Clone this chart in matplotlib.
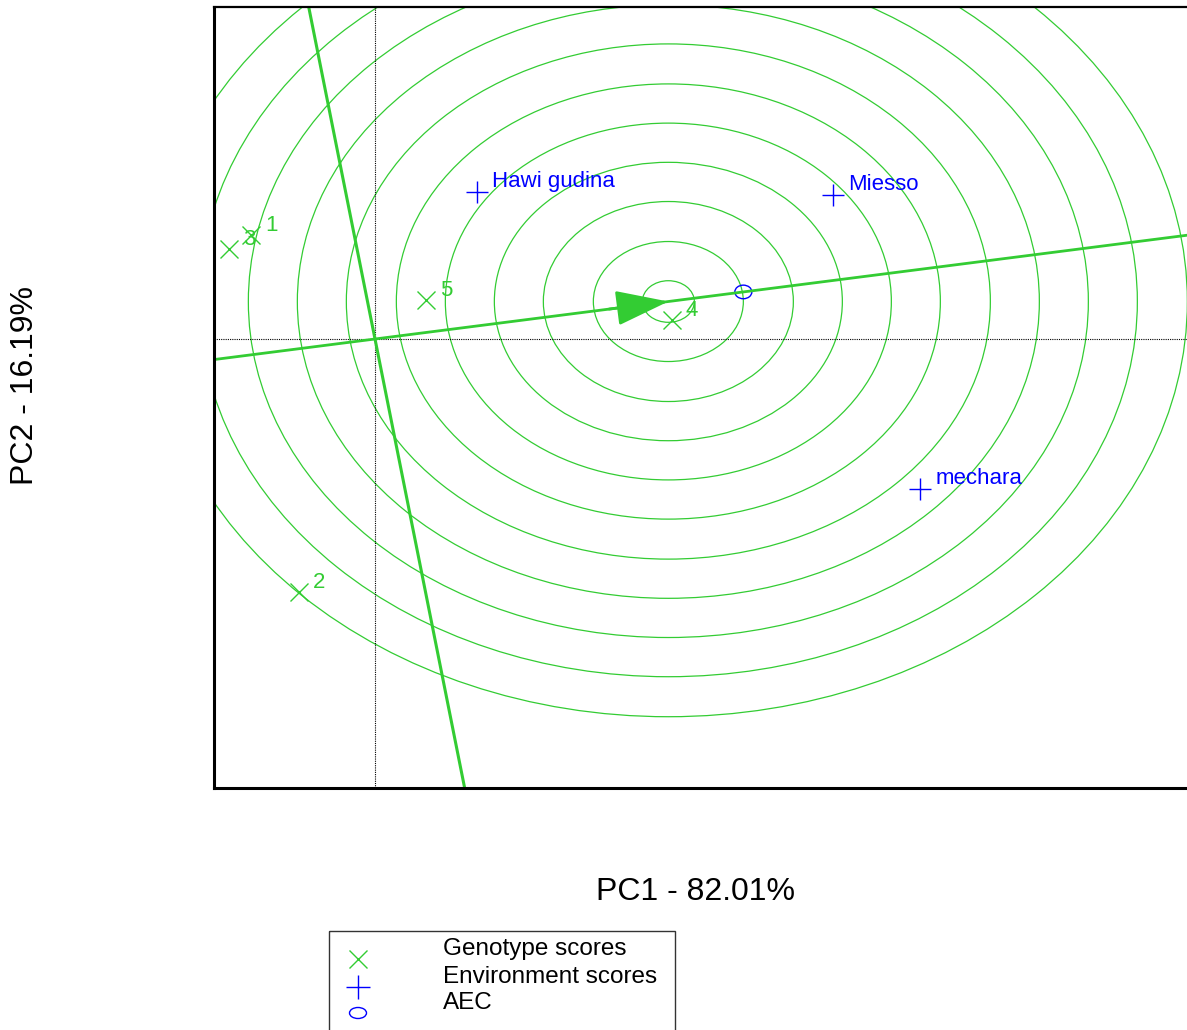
import numpy as np
import matplotlib
matplotlib.use("Agg")
from matplotlib import pyplot as plt
from matplotlib.patches import Circle, Ellipse, FancyArrowPatch, Rectangle

plt.rcParams['font.family'] = ['Liberation Sans', 'DejaVu Sans']

GREEN = '#33cc33'
BLUE = '#0000ff'

# genotype scores (PC1, PC2)
gen_names = ['1', '2', '3', '4', '5']
gen_pc1 = [-1.24, -0.76, -1.46, 2.97, 0.51]
gen_pc2 = [1.30, -3.16, 1.125, 0.24, 0.49]

# environment scores (PC1, PC2)
env_names = ['Hawi gudina', 'Miesso', 'mechara']
env_pc1 = [1.02, 4.58, 5.45]
env_pc2 = [1.84, 1.80, -1.875]

# concentric rings around the ideal genotype
ring_radii = [0.26, 0.75, 1.25, 1.74, 2.23, 2.72, 3.22, 3.71, 4.20, 4.69, 5.19]

fig = plt.figure(figsize=(11.87, 10.30), dpi=100)
ax = fig.add_axes([214/1187, 1-788/1030, 1-214/1187, (788-7)/1030])
ax.set_xlim(-1.61, 8.12)
ax.set_ylim(-5.6125, 4.15)
ax.set_xticks([])
ax.set_yticks([])
ax.spines['right'].set_visible(False)
ax.spines['left'].set_linewidth(2.2)
ax.spines['bottom'].set_linewidth(2.2)
ax.spines['top'].set_linewidth(1.6)

# axis cross through origin
ax.axhline(0, color='black', lw=0.8, ls=(0, (1, 1)))
ax.axvline(0, color='black', lw=0.8, ls=(0, (1, 1)))

# average environment coordinate
aec = np.array([np.mean(env_pc1), np.mean(env_pc2)])
u = aec / np.linalg.norm(aec)
proj = [x*u[0] + y*u[1] for x, y in zip(gen_pc1, gen_pc2)]
ideal = max(proj) * u

for r in ring_radii:
    ax.add_patch(Circle(ideal, r, fill=False, ec=GREEN, lw=0.9))

# AEC abscissa and ordinate
t = np.array([-20, 20])
ax.plot(t*u[0], t*u[1], color=GREEN, lw=2)
ax.plot(-t*u[1], t*u[0], color=GREEN, lw=2.2)

arr = FancyArrowPatch(ideal - 0.6*u, ideal,
                      arrowstyle='-|>,head_length=3.3,head_width=1.1',
                      mutation_scale=10, color=GREEN, lw=2,
                      shrinkA=0, shrinkB=0)
ax.add_patch(arr)

ax.add_patch(Circle(aec, 0.085, fill=False, ec=BLUE, lw=1))

ax.plot(gen_pc1, gen_pc2, 'x', color=GREEN, ms=13, mew=1)
for n, x, y in zip(gen_names, gen_pc1, gen_pc2):
    ax.annotate(n, (x, y), xytext=(10, 3), textcoords='offset points',
                color=GREEN, fontsize=16, ha='left', va='baseline')

ax.plot(env_pc1, env_pc2, '+', color=BLUE, ms=16, mew=1)
for n, x, y in zip(env_names, env_pc1, env_pc2):
    ax.annotate(n, (x, y), xytext=(11, 3.5), textcoords='offset points',
                color=BLUE, fontsize=16, ha='left', va='baseline')

fig.text(695/1187, 1-892/1030, 'PC1 - 82.01%', fontsize=23,
         ha='center', va='center')
fig.text(25/1187, 1-385/1030, 'PC2 - 16.19%', fontsize=23,
         ha='center', va='center', rotation=90)

# legend box
lg = fig.add_axes([0, 0, 1, 1], facecolor='none')
lg.set_xlim(0, 1187)
lg.set_ylim(1030, 0)
lg.axis('off')
lg.add_patch(Rectangle((329, 931), 346, 120, fill=False, ec='#333333', lw=1))
lg.plot([358], [959], 'x', color=GREEN, ms=13, mew=1)
lg.plot([358], [987], '+', color=BLUE, ms=17, mew=1)
lg.add_patch(Ellipse((358, 1013), 17, 11, fill=False, ec=BLUE, lw=1))
for s, yb in zip(['Genotype scores', 'Environment scores', 'AEC'], [955, 983, 1009]):
    lg.text(443, yb, s, fontsize=17.5, ha='left', va='baseline')

fig.savefig('out.png', dpi=100)
